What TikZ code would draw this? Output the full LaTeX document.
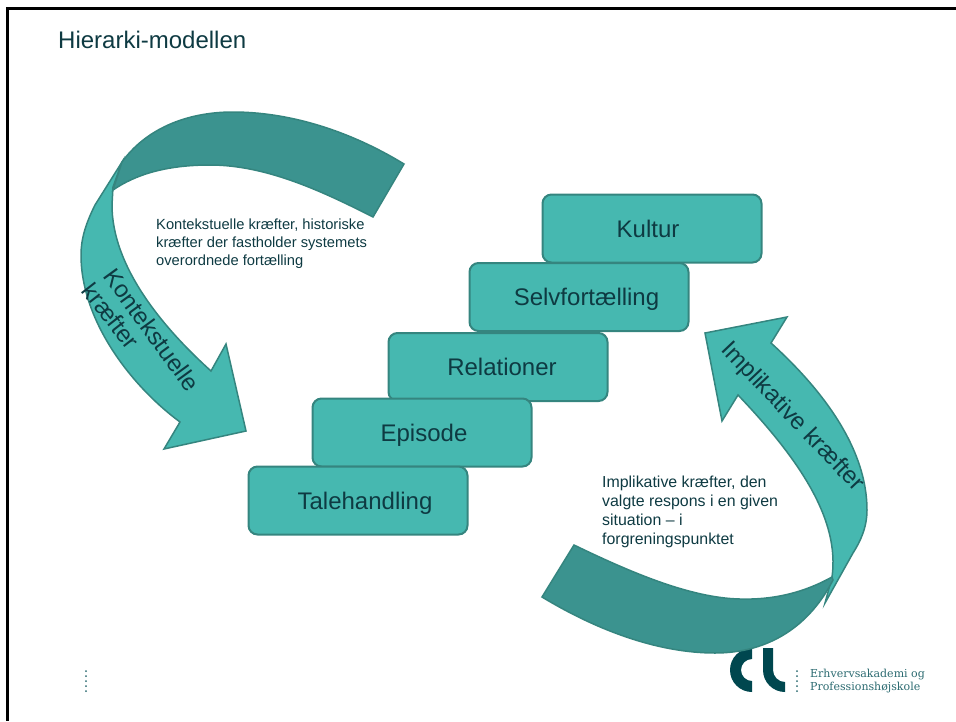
\documentclass[tikz,border=0pt]{standalone}
\usepackage{fontspec}
\setmainfont{Liberation Sans}
\newfontfamily\logofont{DejaVu Serif}
\usetikzlibrary{positioning}
\definecolor{tealbox}{HTML}{46B8B0}
\definecolor{tealdark}{HTML}{3B938F}
\definecolor{tealline}{HTML}{35857F}
\definecolor{inktext}{HTML}{0E3A42}
\definecolor{logoteal}{HTML}{00474F}
\definecolor{logotext}{HTML}{2B6A70}
\tikzset{
  stepbox/.style={
    rectangle, minimum width=219pt, minimum height=68pt, rounded corners=9pt,
    line width=2pt, draw=tealline, fill=tealbox, text=inktext,
    inner sep=0pt, text height=18pt, text depth=1pt, font=\fontsize{24}{28}\selectfont
  },
  %
  bandlight/.style={
    draw=tealline, line width=1.5pt, fill=tealbox, line join=miter
  },
  %
  banddark/.style={
    draw=tealline, line width=1.5pt, fill=tealdark, line join=miter
  },
  %
  bandtext/.style={
    text=inktext, inner sep=0pt, font=\fontsize{24}{28}\selectfont
  },
  %
  notetext/.style={
    anchor=north west, align=left, text=inktext, inner sep=0pt
  },
  %
  logodot/.style={
    circle, inner sep=0pt, minimum size=2pt, fill=logotext
  }
}

\begin{document}
\begin{tikzpicture}[x=1pt,y=-1pt]
\useasboundingbox (0,0) rectangle (956,721);
\fill[black] (6,7) rectangle (956,9.5);
\fill[black] (6,7) rectangle (9,721);

\node(title)[anchor=west, text=inktext, inner sep=0pt, font=\fontsize{24}{28}\selectfont] at (58,40) {Hierarki-modellen};

% logo below the lower band
\fill[logoteal] (752,648) arc[start angle=-90, end angle=-270, radius=22] -- (752,681) arc[start angle=90, end angle=270, radius=11] -- cycle;
\fill[logoteal] (763,648) -- (763,670) arc[start angle=180, end angle=90, radius=22] -- (785,682) arc[start angle=90, end angle=180, radius=12] -- (773,648) -- cycle;
\foreach \i in {0,...,4}{
    \node(dotr\i)[logodot] at (797,671+5*\i) {};
    \node(dotl\i)[logodot] at (86,671+5*\i) {};
}
\node(school)[anchor=west, align=left, text=logotext, inner sep=0pt, font=\logofont\fontsize{11}{13}\selectfont] at (810,681.5) {Erhvervsakademi og\\Professionshøjskole};

% left band
\draw[bandlight] (122,162) -- (95,205) .. controls (85,225) and (81,240) .. (81,255) .. controls (81,320) and (130,385) .. (180,422)
    -- (164,449) -- (246,431) -- (226,344) -- (211,371)
    .. controls (160,325) and (112,265) .. (112,205) -- (113,187) -- cycle;
\draw[banddark] (404,164) .. controls (345,128) and (285,112) .. (233,112) .. controls (185,112) and (145,130) .. (122,162)
    -- (113,190) .. controls (135,175) and (165,165) .. (210,165) .. controls (265,165) and (320,190) .. (373,217) -- cycle;

% right band
\draw[bandlight] (705,333) -- (787,317) -- (771,343)
    .. controls (825,392) and (867,450) .. (867,510) .. controls (867,528) and (860,542) .. (853,553) -- (825,603)
    -- (832,577) .. controls (840,520) and (800,460) .. (738,395)
    -- (722,421) -- cycle;
\draw[banddark] (574,545) -- (542,597)
    .. controls (600,632) and (660,653) .. (715,653) .. controls (770,653) and (810,625) .. (833,580)
    -- (832,577) .. controls (805,592) and (775,600) .. (740,599) .. controls (690,598) and (630,572) .. (574,545) -- cycle;

\node(kontekst)[bandtext, rotate=-54] at (152,330) {Kontekstuelle};
\node(kraefta)[bandtext, rotate=-52] at (111,316) {kræfter};
\node(implik)[bandtext, rotate=-46.5] at (792,417) {Implikative kræfter};

\node(notek)[notetext, font=\fontsize{14.7}{18}\selectfont] at (156,218.5) {Kontekstuelle kræfter, historiske\\kræfter der fastholder systemets\\overordnede fortælling};
\node(notei)[notetext, font=\fontsize{15.9}{19}\selectfont] at (602,475.5) {Implikative kræfter, den\\valgte respons i en given\\situation -- i\\forgreningspunktet};

% stairs, top step first
\node(kultur)[stepbox] at (652,228.5) {\hspace*{-8pt}Kultur};
\node(selv)[stepbox, below=-1.5pt of kultur, xshift=-73pt] {\hspace*{15pt}Selvfortælling};
\node(rel)[stepbox, below=0pt of selv, xshift=-81pt] {\hspace*{8pt}Relationer};
\node(epi)[stepbox, below=-4.5pt of rel, xshift=-76pt] {\hspace*{4pt}Episode};
\node(tale)[stepbox, below=-2pt of epi, xshift=-64pt] {\hspace*{14pt}Talehandling};
\end{tikzpicture}
\end{document}
